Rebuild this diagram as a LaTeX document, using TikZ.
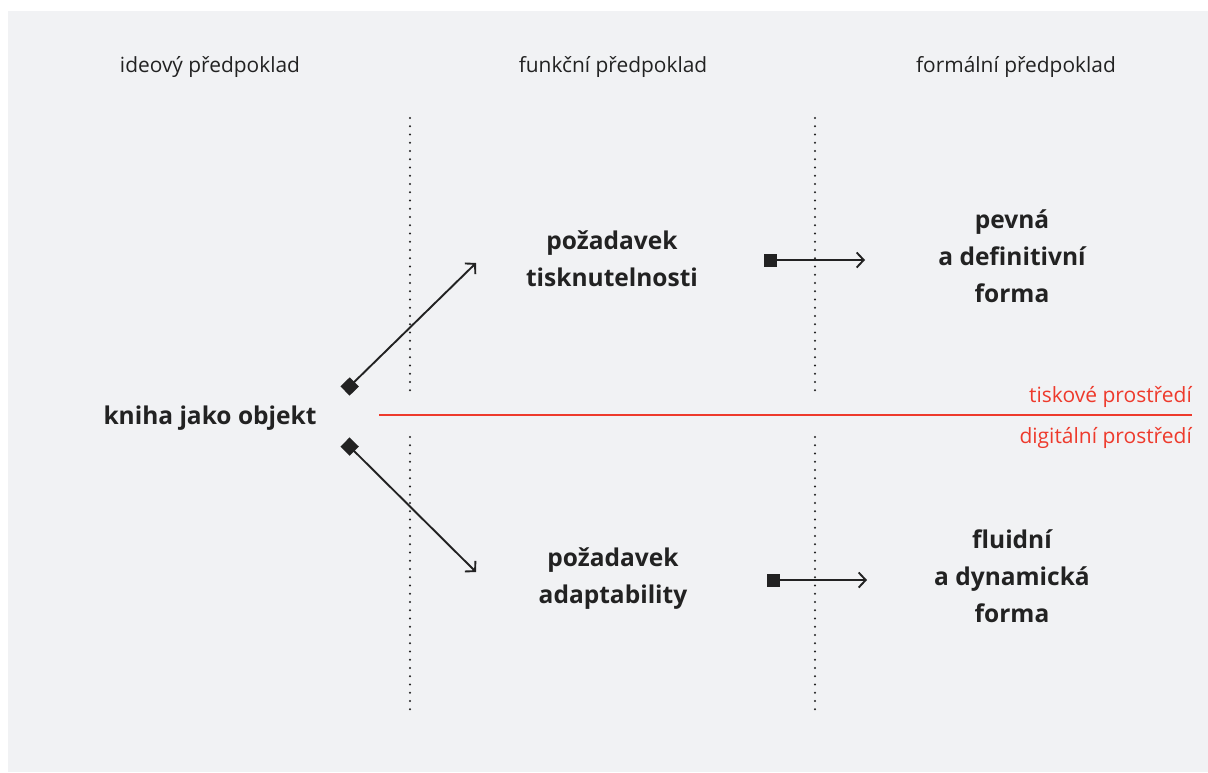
\documentclass[tikz,border=0pt]{standalone}
\usepackage{fontspec}
\setmainfont{Open Sans}
\usetikzlibrary{arrows.meta}
\definecolor{bg}{HTML}{F1F2F4}
\definecolor{ink}{HTML}{222222}
\definecolor{accent}{HTML}{EE3A2C}
\begin{document}
\begin{tikzpicture}[x=1pt,y=-1pt,
  header/.style={font=\fontsize{20.9}{24}\selectfont, text=ink},
  concept/.style={font=\bfseries\fontsize{24.5}{37}\selectfont, text=ink, align=center},
  envlabel/.style={font=\fontsize{21}{24}\selectfont, text=accent, anchor=east, inner sep=0pt},
  divider/.style={ink, line width=2.3pt, line cap=round, dash pattern=on 0pt off 8.25pt},
  branch/.style={ink, line width=1.9pt,
    {Square[length=13pt, width=13pt]}-{Straight Barb[length=7pt, width=15pt, line width=1.9pt]}}
]
  % canvas
  \useasboundingbox (0,0) rectangle (1208,772);
  \fill[white] (0,0) rectangle (1208,772);
  \fill[bg] (8,11) rectangle (1208,772);

  % column headings
  \node[header] (h1) at (210,67) {ideový předpoklad};
  \node[header] (h2) at (613,67) {funkční předpoklad};
  \node[header] (h3) at (1016,67) {formální předpoklad};

  % dotted column dividers
  \coordinate (d1a) at (410,118); \coordinate (d1b) at (410,393);
  \coordinate (d1c) at (410,437); \coordinate (d1d) at (410,714);
  \coordinate (d2a) at (815,118); \coordinate (d2b) at (815,393);
  \coordinate (d2c) at (815,437); \coordinate (d2d) at (815,714);
  \draw[divider] (d1a) -- (d1b);
  \draw[divider] (d1c) -- (d1d);
  \draw[divider] (d2a) -- (d2b);
  \draw[divider] (d2c) -- (d2d);

  % print / digital boundary
  \coordinate (ra) at (379,415);
  \coordinate (rb) at (1192,415);
  \draw[accent, line width=2pt] (ra) -- (rb);
  \node[envlabel] (print) at (1192,397) {tiskové prostředí};
  \node[envlabel] (digital) at (1192,438) {digitální prostředí};

  % concepts
  \node[concept] (book) at (210,418) {kniha jako objekt};
  \node[concept] (printable) at (612,259) {požadavek\\tisknutelnosti};
  \node[concept] (adaptable) at (613,579) {požadavek\\adaptability};
  \node[concept] (fixed) at (1012,256) {pevná\\a definitivní\\forma};
  \node[concept] (fluid) at (1012,576) {fluidní\\a dynamická\\forma};

  % branches from the book
  \coordinate (bu) at (345,391); \coordinate (bue) at (476,263);
  \coordinate (bl) at (345,442); \coordinate (ble) at (476,572);
  \draw[branch] (bu) -- (bue);
  \draw[branch] (bl) -- (ble);

  % requirements leading to forms
  \coordinate (pu) at (764,260); \coordinate (pue) at (865,260);
  \coordinate (pl) at (767,580); \coordinate (ple) at (867,580);
  \draw[branch] (pu) -- (pue);
  \draw[branch] (pl) -- (ple);
\end{tikzpicture}
\end{document}
